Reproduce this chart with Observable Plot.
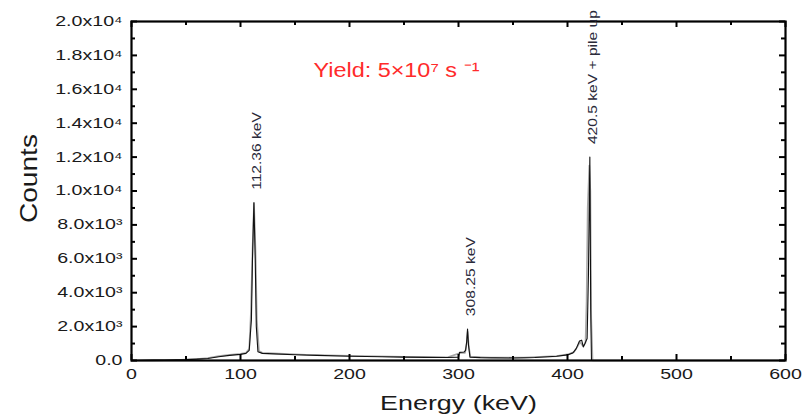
<!DOCTYPE html>
<html>
<head>
<meta charset="utf-8">
<script src="https://cdn.jsdelivr.net/npm/d3@7"></script>
<script src="https://cdn.jsdelivr.net/npm/@observablehq/plot@0.6"></script>
<style>
  html, body { margin: 0; padding: 0; background: #fff; }
  svg { display: block; }
</style>
</head>
<body>
<script>
// ---- Data ----
const energyBlack = [0, 10, 20, 30, 40, 50, 60, 70, 80, 90, 100, 105, 108, 110, 111, 112.3, 113.5, 114.5, 116, 120, 130, 150, 170, 200, 230, 250, 270, 290, 300, 301, 305, 306.5, 307.5, 308.3, 309.2, 310.5, 320, 350, 370, 390, 400, 405, 408, 411, 413, 414.5, 416, 418, 419.2, 420.5, 421.3, 422, 430, 600];
const countsBlack = [0, 10, 20, 30, 40, 50, 80, 120, 220, 300, 360, 420, 600, 2400, 6000, 9300, 6000, 2000, 520, 420, 390, 340, 300, 250, 220, 200, 185, 175, 200, 480, 500, 600, 1100, 1850, 900, 200, 170, 150, 180, 250, 330, 450, 700, 1150, 1200, 800, 1000, 1300, 5000, 12000, 3000, 0, 0, 0];

const energyGray = [0, 20, 40, 60, 70, 80, 90, 100, 105, 108, 109.5, 111, 112.4, 113.8, 115, 117, 120, 140, 160, 200, 250, 290, 302, 306, 307.5, 308.4, 309.5, 311, 330, 360, 390, 400, 406, 409, 411.5, 413, 414.5, 416.5, 417.5, 418.5, 420, 421, 421.8, 423, 600];
const countsGray = [0, 10, 30, 90, 150, 260, 340, 400, 460, 700, 2800, 6500, 9300, 6500, 2400, 560, 460, 400, 340, 280, 220, 190, 450, 450, 1000, 1700, 800, 220, 170, 170, 260, 360, 500, 800, 1100, 950, 850, 1050, 3500, 9000, 11500, 10000, 2500, 0, 0];

const peakEnergies = [112.36, 308.25, 420.5];
const peakCounts = [9300, 1850, 12000];
const peakLabels = ["112.36 keV", "308.25 keV", "420.5 keV + pile up"];

const xMajorTicks = [0, 100, 200, 300, 400, 500, 600];
const xMinorTicks = [50, 150, 250, 350, 450, 550];
const yMajorTicks = [0, 2000, 4000, 6000, 8000, 10000, 12000, 14000, 16000, 18000, 20000];
const yMinorTicks = [1000, 3000, 5000, 7000, 9000, 11000, 13000, 15000, 17000, 19000];
const yTickLabels = ["0.0", "2.0x10³", "4.0x10³", "6.0x10³", "8.0x10³", "1.0x10⁴", "1.2x10⁴", "1.4x10⁴", "1.6x10⁴", "1.8x10⁴", "2.0x10⁴"];

const xLabel = "Energy (keV)";
const yLabel = "Counts";
const yieldText = "Yield: 5×10⁷ s ⁻¹";

// ---- Layout ----
const W = 808, H = 418;
const mL = 131, mR = 23, mT = 21, mB = 58;
const innerW = W - mL - mR, innerH = H - mT - mB;
const xDom = [0, 600], yDom = [0, 20000];
// tick lengths in pixels converted to data units
const kx = (xDom[1] - xDom[0]) / innerW, ky = (yDom[1] - yDom[0]) / innerH;
const majLen = 6, minLen = 4;

const black = energyBlack.map((e, i) => ({e, c: countsBlack[i]}));
const gray = energyGray.map((e, i) => ({e, c: countsGray[i]}));
const peaks = peakEnergies.map((e, i) => ({e, c: peakCounts[i], label: peakLabels[i]}));

const tickStyle = {stroke: "#000", strokeWidth: 2};

const chart = Plot.plot({
  width: W,
  height: H,
  marginLeft: mL,
  marginRight: mR,
  marginTop: mT,
  marginBottom: mB,
  style: {fontFamily: "'Liberation Sans', Arial, sans-serif", fontSize: "14px", color: "#1a1a1a", background: "#fff"},
  x: {domain: xDom},
  y: {domain: yDom},
  marks: [
    Plot.axisX({ticks: xMajorTicks, tickSize: 0, tickPadding: 9, tickFormat: d => String(d), label: null, fontSize: 14}),
    Plot.axisY({ticks: yMajorTicks, tickSize: 0, tickPadding: 9, tickFormat: d => yTickLabels[yMajorTicks.indexOf(d)], label: null, fontSize: 14}),
    Plot.line(gray, {x: "e", y: "c", stroke: "#a8a8a8", strokeWidth: 1.6}),
    Plot.line(black, {x: "e", y: "c", stroke: "#111", strokeWidth: 1.1}),
    // inward ticks on all four sides
    Plot.ruleX(xMajorTicks, {x: d => d, y1: yDom[0], y2: yDom[0] + majLen * ky, ...tickStyle}),
    Plot.ruleX(xMinorTicks, {x: d => d, y1: yDom[0], y2: yDom[0] + minLen * ky, ...tickStyle}),
    Plot.ruleX(xMajorTicks, {x: d => d, y1: yDom[1], y2: yDom[1] - majLen * ky, ...tickStyle}),
    Plot.ruleX(xMinorTicks, {x: d => d, y1: yDom[1], y2: yDom[1] - minLen * ky, ...tickStyle}),
    Plot.ruleY(yMajorTicks, {y: d => d, x1: xDom[0], x2: xDom[0] + majLen * kx, ...tickStyle}),
    Plot.ruleY(yMinorTicks, {y: d => d, x1: xDom[0], x2: xDom[0] + minLen * kx, ...tickStyle}),
    Plot.ruleY(yMajorTicks, {y: d => d, x1: xDom[1], x2: xDom[1] - majLen * kx, ...tickStyle}),
    Plot.ruleY(yMinorTicks, {y: d => d, x1: xDom[1], x2: xDom[1] - minLen * kx, ...tickStyle}),
    Plot.frame({stroke: "#000", strokeWidth: 2.2}),
    Plot.text(peaks, {x: "e", y: "c", text: "label", rotate: -90, textAnchor: "start", lineAnchor: "middle", dx: 3, dy: -13, fontSize: 13, fill: "#2a2a3a"}),
    Plot.text([yieldText], {frameAnchor: "top-left", dx: 265, dy: 49, textAnchor: "middle", lineAnchor: "middle", fontSize: 20, fill: "#ff2b2b"}),
    Plot.text([xLabel], {frameAnchor: "bottom", dy: 43, lineAnchor: "middle", fontSize: 21, fill: "#1a1a1a"}),
    Plot.text([yLabel], {frameAnchor: "left", dx: -102, dy: 32, rotate: -90, lineAnchor: "middle", fontSize: 23, fill: "#1a1a1a"})
  ]
});

document.body.append(chart);

// horizontal stretch of the glyphs, as in the reference picture
const xTickStrings = xMajorTicks.map(String);
function factorFor(t) {
  if (yTickLabels.includes(t) || xTickStrings.includes(t)) return 1.4;
  if (peakLabels.includes(t)) return 1.2;
  if (t === yieldText) return 1.17;
  if (t === xLabel) return 1.28;
  if (t === yLabel) return 1.22;
  return 1;
}
d3.select(chart).selectAll("text").each(function() {
  const t = this.textContent;
  const k = factorFor(t);
  const L = this.getComputedTextLength();
  if (k !== 1 && L > 0) {
    this.setAttribute("textLength", L * k);
    this.setAttribute("lengthAdjust", "spacingAndGlyphs");
  }
});
</script>
</body>
</html>
